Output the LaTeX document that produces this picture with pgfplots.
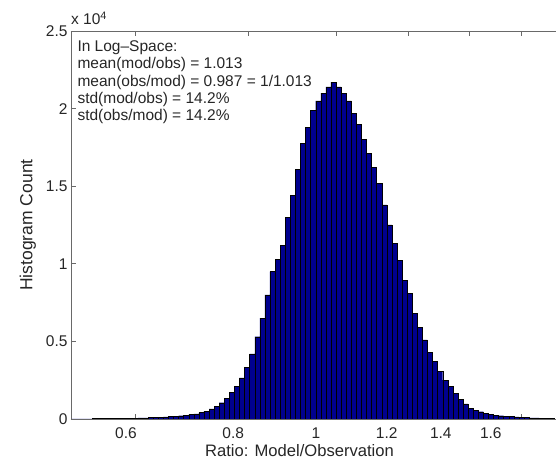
\documentclass[border=0pt]{standalone}
\usepackage{fontspec}
\setmainfont{Liberation Sans}
\usepackage{pgfplots}
\usepackage{pgfplotstable}
\pgfplotsset{compat=1.18}
\definecolor{barblue}{RGB}{0,0,143}
\definecolor{axgray}{RGB}{105,105,105}
\pgfplotstableread{
edge count
0.51126 10
0.51789 10
0.52461 15
0.53141 15
0.53830 20
0.54528 20
0.55235 25
0.55951 30
0.56677 35
0.57412 40
0.58156 45
0.58910 50
0.59674 60
0.60448 70
0.61232 80
0.62026 90
0.62830 100
0.63645 120
0.64470 140
0.65306 160
0.66153 180
0.67011 210
0.67880 240
0.68760 280
0.69651 330
0.70555 410
0.71470 510
0.72396 650
0.73335 830
0.74286 1050
0.75249 1330
0.76225 1700
0.77213 2100
0.78215 2650
0.79229 3350
0.80256 4200
0.81297 5300
0.82351 6500
0.83419 8000
0.84501 9500
0.85596 10300
0.86706 11200
0.87830 13000
0.88969 14400
0.90123 16100
0.91292 17750
0.92475 18800
0.93675 19900
0.94889 20500
0.96120 21000
0.97366 21400
0.98629 21700
0.99907 21400
1.01203 21000
1.02515 20500
1.03845 19700
1.05191 19000
1.06555 18000
1.07937 17100
1.09336 16200
1.10754 15200
1.12190 13800
1.13645 12500
1.15119 11300
1.16611 10200
1.18123 8950
1.19655 8100
1.21207 6800
1.22778 5900
1.24371 5100
1.25983 4300
1.27617 3700
1.29272 3050
1.30948 2500
1.32646 2100
1.34366 1650
1.36108 1270
1.37873 970
1.39661 700
1.41472 550
1.43306 470
1.45165 360
1.47047 300
1.48954 250
1.50885 210
1.52842 180
1.54824 150
1.56831 130
1.58865 110
1.60925 90
1.63012 80
1.65125 70
1.67267 60
1.69435 50
1.71633 40
1.73858 0
}\histdata

\begin{document}
\begin{tikzpicture}
\begin{axis}[
  at={(71bp,40bp)}, anchor=south west,
  scale only axis, width=485bp, height=388bp,
  xmode=log, xmin=0.51013, xmax=1.7453,
  ymin=0, ymax=25000,
  axis x line*=box, axis y line*=left,
  axis line style={axgray, line width=0.8bp},
  xtick={0.6,0.8,1,1.2,1.4,1.6}, xticklabels={},
  minor xtick={},
  extra x ticks={0.5865,0.7700,0.9496,1.1361,1.3031,1.4793},
  extra x tick labels={0.6,0.8,1,1.2,1.4,1.6},
  extra x tick style={major tick length=0pt},
  ytick={0,5000,10000,15000,20000,25000},
  yticklabels={0,0.5,1,1.5,2,2.5},
  scaled y ticks=false,
  tick style={axgray, line width=0.8bp},
  major tick length=5bp,
  tick align=inside,
  tick label style={font=\fontsize{15.5bp}{18bp}\selectfont, text=black!85},
  xticklabel style={yshift=-5bp},
  xlabel={Ratio: Model/Observation},
  ylabel={Histogram Count},
  label style={text=black!85},
  xlabel style={font=\fontsize{16.6bp}{19bp}\selectfont, at={([yshift=-37.5bp]axis description cs:0.4711,0)}, anchor=base},
  ylabel style={font=\fontsize{17.5bp}{20bp}\selectfont, at={([xshift=-38.5bp]axis description cs:0,0.5)}, anchor=base},
]
\addplot[ybar interval, fill=barblue, draw=black, line width=0.4bp] table[x=edge, y=count] {\histdata};
\end{axis}
\begin{scope}[every node/.style={anchor=base west, inner sep=0pt, text=black!85, font=\fontsize{15.5bp}{18bp}\selectfont}]
\node at (71bp,434bp) {x 10\textsuperscript{4}};
\node at (77.3bp,407.3bp) {In Log\textendash Space:};
\node at (77.3bp,390bp) {mean(mod/obs) = 1.013};
\node at (77.3bp,372.7bp) {mean(obs/mod) = 0.987 = 1/1.013};
\node at (77.3bp,355.3bp) {std(mod/obs) = 14.2\%};
\node at (77.3bp,338bp) {std(obs/mod) = 14.2\%};
\end{scope}
\pgfresetboundingbox
\path[use as bounding box] (0bp,0bp) rectangle (556bp,459bp);
\end{tikzpicture}
\end{document}
